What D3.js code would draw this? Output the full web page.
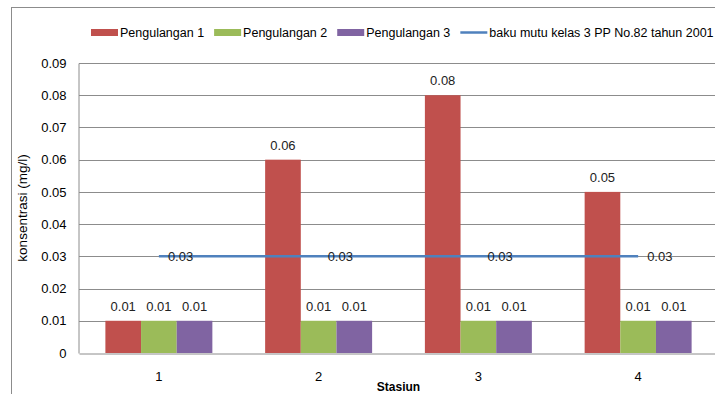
<!DOCTYPE html>
<html>
<head>
<meta charset="utf-8">
<script src="https://cdn.jsdelivr.net/npm/d3@7"></script>
<style>
  html, body { margin: 0; padding: 0; background: #fff; }
  svg { display: block; font-family: "Liberation Sans", Arial, sans-serif; }
</style>
</head>
<body>
<svg id="chart" width="715" height="394"></svg>
<script>
// Stasiun categories and concentration readings (mg/l)
const categories = ["1", "2", "3", "4"];
const seriesNames = ["Pengulangan 1", "Pengulangan 2", "Pengulangan 3"];
const pengulangan1 = [0.01, 0.06, 0.08, 0.05];
const pengulangan2 = [0.01, 0.01, 0.01, 0.01];
const pengulangan3 = [0.01, 0.01, 0.01, 0.01];
const bakuMutu = [0.03, 0.03, 0.03, 0.03];
const bakuMutuName = "baku mutu kelas 3 PP No.82 tahun 2001";
const yTicks = [0, 0.01, 0.02, 0.03, 0.04, 0.05, 0.06, 0.07, 0.08, 0.09];
const seriesColors = ["#C0504D", "#9BBB59", "#8064A2"];
const lineColor = "#4F81BD";

const seriesValues = [pengulangan1, pengulangan2, pengulangan3];

const svg = d3.select("#chart");
const plot = { left: 79, right: 718, top: 63, bottom: 353 };

// outer chart frame
svg.append("rect")
  .attr("x", 11.5).attr("y", 7.5)
  .attr("width", 760).attr("height", 420)
  .attr("fill", "#fff").attr("stroke", "#8c8c8c").attr("stroke-width", 1);

const x = d3.scaleBand().domain(categories).range([plot.left, plot.right]).padding(0);
const xInner = d3.scaleBand().domain(d3.range(seriesNames.length))
  .range([0, x.bandwidth()]).paddingInner(0).paddingOuter(0.74);
const y = d3.scaleLinear().domain([0, 0.09]).range([plot.bottom, plot.top]);

// horizontal gridlines
svg.append("g").selectAll("line").data(yTicks.slice(1)).join("line")
  .attr("x1", plot.left).attr("x2", plot.right + 5)
  .attr("y1", d => Math.round(y(d)) + 0.5).attr("y2", d => Math.round(y(d)) + 0.5)
  .attr("stroke", "#8c8c8c").attr("stroke-width", 1);

// y axis
const yAxis = d3.axisLeft(y).tickValues(yTicks).tickSize(0).tickPadding(12)
  .tickFormat(d => d === 0 ? "0" : d3.format(".2f")(d));
const gy = svg.append("g").attr("transform", `translate(${plot.left - 0.5},0)`).call(yAxis);
gy.select(".domain").attr("stroke", "#8c8c8c");
gy.selectAll("text").attr("font-size", 13).attr("fill", "#000")
  .attr("font-family", "Liberation Sans, Arial, sans-serif");

// bars
const groups = svg.append("g").selectAll("g").data(seriesValues).join("g")
  .attr("fill", (d, i) => seriesColors[i]);
groups.selectAll("rect").data((vals, si) => vals.map((v, ci) => ({ v, ci, si }))).join("rect")
  .attr("x", d => x(categories[d.ci]) + xInner(d.si))
  .attr("width", xInner.bandwidth())
  .attr("y", d => y(d.v))
  .attr("height", d => y(0) - y(d.v));

// bar value labels
groups.selectAll("text").data((vals, si) => vals.map((v, ci) => ({ v, ci, si }))).join("text")
  .attr("x", d => x(categories[d.ci]) + xInner(d.si) + xInner.bandwidth() / 2)
  .attr("y", d => y(d.v) - 10)
  .attr("text-anchor", "middle").attr("font-size", 13).attr("fill", "#222")
  .text(d => d3.format(".2f")(d.v));

// x axis line
const xAxis = d3.axisBottom(x).tickSize(0).tickPadding(18);
const gx = svg.append("g").attr("transform", `translate(0,${plot.bottom + 0.5})`).call(xAxis);
gx.select(".domain").attr("stroke", "#8c8c8c");
gx.selectAll("text").attr("font-size", 13).attr("fill", "#000")
  .attr("font-family", "Liberation Sans, Arial, sans-serif");

// standard line (baku mutu)
const line = d3.line()
  .x((d, i) => x(categories[i]) + x.bandwidth() / 2)
  .y(d => y(d));
svg.append("path").datum(bakuMutu)
  .attr("d", line).attr("fill", "none")
  .attr("stroke", lineColor).attr("stroke-width", 2.5);
svg.append("g").selectAll("text").data(bakuMutu).join("text")
  .attr("x", (d, i) => x(categories[i]) + x.bandwidth() / 2 + 9)
  .attr("y", d => y(d)).attr("dy", "0.35em")
  .attr("font-size", 13).attr("fill", "#222")
  .text(d => d3.format(".2f")(d));

// axis titles
svg.append("text")
  .attr("transform", `translate(27,${(plot.top + plot.bottom) / 2}) rotate(-90)`)
  .attr("text-anchor", "middle").attr("font-size", 13.5).attr("fill", "#000")
  .text("konsentrasi (mg/l)");
svg.append("text")
  .attr("x", (plot.left + plot.right) / 2).attr("y", 391)
  .attr("text-anchor", "middle").attr("font-size", 12).attr("font-weight", "bold")
  .attr("fill", "#000").text("Stasiun");

// legend
const legend = svg.append("g").attr("font-size", 12.5).attr("fill", "#000");
let lx = 91;
const ly = 32.5;
const legendItems = seriesNames.map((n, i) => ({ name: n, color: seriesColors[i], type: "rect" }))
  .concat([{ name: bakuMutuName, color: lineColor, type: "line" }]);
legendItems.forEach(item => {
  if (item.type === "rect") {
    legend.append("rect").attr("x", lx).attr("y", ly - 3.5).attr("width", 27).attr("height", 7)
      .attr("fill", item.color);
  } else {
    legend.append("line").attr("x1", lx).attr("x2", lx + 27).attr("y1", ly).attr("y2", ly)
      .attr("stroke", item.color).attr("stroke-width", 2.5);
  }
  const t = legend.append("text").attr("x", lx + 29).attr("y", ly).attr("dy", "0.35em")
    .text(item.name);
  lx += 29 + t.node().getComputedTextLength() + 10;
});
</script>
</body>
</html>
